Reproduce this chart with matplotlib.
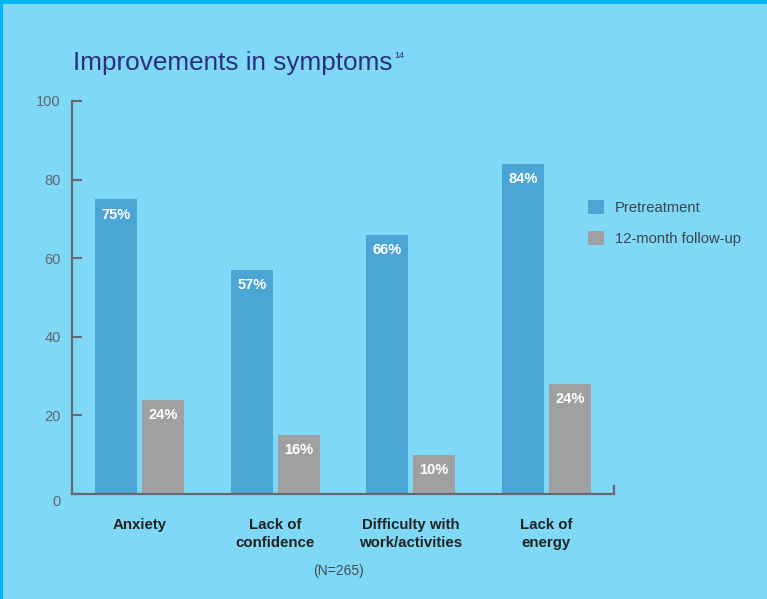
import numpy as np
import matplotlib.pyplot as plt
from matplotlib.patches import Rectangle
from matplotlib.transforms import ScaledTranslation

categories = ['Anxiety', 'Lack of\nconfidence', 'Difficulty with\nwork/activities', 'Lack of\nenergy']
pretreatment = [75, 57, 66, 84]
followup = [24, 15, 10, 28]
pre_labels = ['75%', '57%', '66%', '84%']
follow_labels = ['24%', '16%', '10%', '24%']
series_names = ['Pretreatment', '12-month follow-up']
yticks = [0, 20, 40, 60, 80, 100]

bg = '#7fd8f5'
edge = '#00b8f0'
c_pre = '#4ba6d5'
c_follow = '#a0a0a2'
axis_col = '#666a6e'

plt.rcParams['font.family'] = ['Liberation Sans', 'DejaVu Sans']

fig = plt.figure(figsize=(7.67, 5.99), dpi=100)
fig.patch.set_facecolor(bg)
# darker frame on top and left edges
fig.patches.append(Rectangle((0, 1 - 4 / 599), 1, 4 / 599, transform=fig.transFigure,
                             facecolor=edge, edgecolor='none'))
fig.patches.append(Rectangle((0, 0), 3 / 767, 1, transform=fig.transFigure,
                             facecolor=edge, edgecolor='none'))

ax = fig.add_axes([72 / 767, 1 - 494 / 599, (614 - 72) / 767, (494 - 101) / 599])
ax.set_facecolor('none')

x = np.arange(len(categories))
w = 0.31
off = 0.173
b1 = ax.bar(x - off, pretreatment, width=w, color=c_pre, label=series_names[0], zorder=2)
b2 = ax.bar(x + off, followup, width=w, color=c_follow, label=series_names[1], zorder=2)

for bars, labs in ((b1, pre_labels), (b2, follow_labels)):
    for r, t in zip(bars, labs):
        ax.annotate(t, (r.get_x() + r.get_width() / 2, r.get_height()),
                    xytext=(0, -6), textcoords='offset points', ha='center', va='top',
                    color='white', fontweight='bold', fontsize=10.5, zorder=3)

ax.set_xlim(-0.5, 3.5)
ax.set_ylim(0, 100)
ax.set_yticks(yticks)
ax.set_xticks(x)
ax.set_xticklabels(categories, fontweight='bold', fontsize=10.8, color='#222222', linespacing=1.38)
ax.tick_params(axis='x', length=0, pad=17)
ax.tick_params(axis='y', direction='in', length=7, width=1.5, color=axis_col,
               labelcolor='#5d666c', labelsize=10.5, pad=8)
for s in ['top', 'right']:
    ax.spines[s].set_visible(False)
for s in ['left', 'bottom']:
    ax.spines[s].set_color(axis_col)
    ax.spines[s].set_linewidth(1.6)
# small end tick on the x axis
ax.plot([3.5, 3.5], [0, 2], color=axis_col, lw=1.6, clip_on=False)

# the "0" label sits a little below the axis line
zero = ax.get_yticklabels()[0]
zero.set_transform(zero.get_transform() + ScaledTranslation(0, -5 / 72, fig.dpi_scale_trans))

title = fig.text(73 / 767, 1 - 70 / 599, 'Improvements in symptoms',
                 fontsize=18.8, color='#2b2f80', ha='left', va='baseline')
fig.canvas.draw()
bb = title.get_window_extent()
fig.text(bb.x1 / 767 + 2 / 767, 1 - 58 / 599, '14', fontsize=6.5, color='#2b2f80',
         ha='left', va='baseline')

leg = ax.legend(loc='upper left', bbox_to_anchor=(0.927, 0.782), frameon=False,
                fontsize=10.6, handlelength=1.1, handleheight=1.1, labelspacing=1.1,
                handletextpad=0.75)
for t in leg.get_texts():
    t.set_color('#3a4550')

fig.text(338 / 767, 1 - 571 / 599, '(N=265)', fontsize=10, color='#444a50',
         ha='center', va='center')

fig.savefig('out.png', dpi=100, facecolor=fig.get_facecolor())
